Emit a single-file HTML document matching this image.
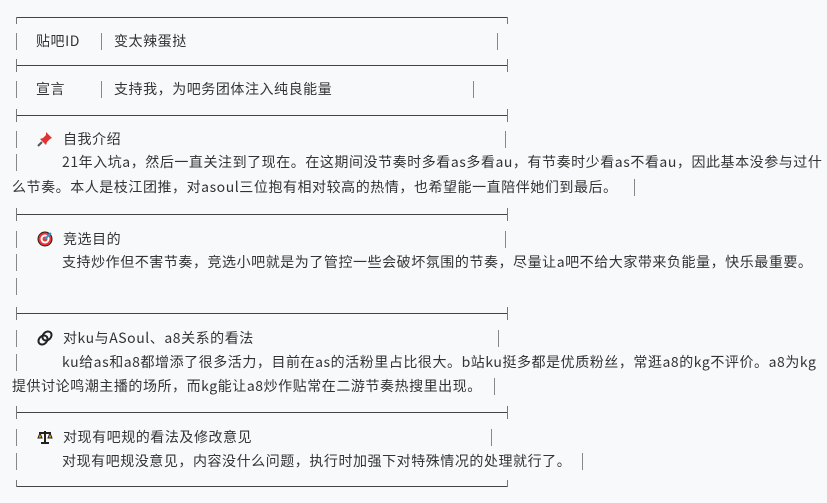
<!DOCTYPE html>
<html><head><meta charset="utf-8"><style>
body{margin:0;width:827px;height:503px;background:#f8f9fb;position:relative;overflow:hidden;font-family:"Noto Sans CJK SC","Liberation Sans",sans-serif;font-size:14px;color:#333}
.h{position:absolute;left:16px;width:491px;height:1px;background:#444}
.lt{position:absolute;left:16px;width:1px;height:7px;background:#777}
.rt{position:absolute;left:507px;width:1px;height:7px;background:#777}
.v{position:absolute;width:1px;height:17px;background:#888}
.t{position:absolute;white-space:nowrap;line-height:20px;letter-spacing:0.55px}
.ic{display:inline-block;width:16px;height:16px;vertical-align:-3px;margin-right:10px}
</style></head><body>
<div class="h" style="top:17px"></div><div class="lt" style="top:17px"></div><div class="rt" style="top:17px"></div>
<div class="h" style="top:65px"></div><div class="lt" style="top:59px;height:13px"></div><div class="rt" style="top:59px;height:13px"></div>
<div class="h" style="top:115px"></div><div class="lt" style="top:109px;height:13px"></div><div class="rt" style="top:109px;height:13px"></div>
<div class="h" style="top:214px"></div><div class="lt" style="top:208px;height:13px"></div><div class="rt" style="top:208px;height:13px"></div>
<div class="h" style="top:313px"></div><div class="lt" style="top:307px;height:13px"></div><div class="rt" style="top:307px;height:13px"></div>
<div class="h" style="top:412px"></div><div class="lt" style="top:406px;height:13px"></div><div class="rt" style="top:406px;height:13px"></div>
<div class="h" style="top:486px"></div><div class="lt" style="top:480px"></div><div class="rt" style="top:480px"></div>

<div class="v" style="left:16px;top:33px"></div><div class="v" style="left:101px;top:33px"></div><div class="v" style="left:497px;top:33px"></div>
<div class="t" style="left:36px;top:31px">贴吧ID</div><div class="t" style="left:114px;top:31px">变太辣蛋挞</div>

<div class="v" style="left:16px;top:81px"></div><div class="v" style="left:101px;top:81px"></div><div class="v" style="left:473px;top:81px"></div>
<div class="t" style="left:36px;top:79px">宣言</div><div class="t" style="left:114px;top:79px">支持我，为吧务团体注入纯良能量</div>

<div class="v" style="left:16px;top:131px"></div><div class="v" style="left:505px;top:131px"></div>
<div class="t" style="left:37px;top:129px"><svg class="ic" viewBox="0 0 16 16"><path d="M9 1l6 6-2 1-3 3-1 3-6-6 3-1 3-3z" fill="#d33"/><path d="M5 11l-4 4" stroke="#555" stroke-width="2"/></svg>自我介绍</div>
<div class="v" style="left:16px;top:154px"></div>
<div class="t" style="left:62px;top:152px">21年入坑a，然后一直关注到了现在。在这期间没节奏时多看as多看au，有节奏时少看as不看au，因此基本没参与过什</div>
<div class="t" style="left:12px;top:177px">么节奏。本人是枝江团推，对asoul三位抱有相对较高的热情，也希望能一直陪伴她们到最后。</div>
<div class="v" style="left:634px;top:179px"></div>

<div class="v" style="left:16px;top:231px"></div><div class="v" style="left:505px;top:231px"></div>
<div class="t" style="left:37px;top:229px"><svg class="ic" viewBox="0 0 16 16"><circle cx="8" cy="8" r="7" fill="#e33" stroke="#222"/><circle cx="8" cy="8" r="4.5" fill="#fff"/><circle cx="8" cy="8" r="2.5" fill="#e33"/><path d="M8 8l6-6" stroke="#39c" stroke-width="2"/></svg>竞选目的</div>
<div class="v" style="left:16px;top:254px"></div>
<div class="t" style="left:62px;top:252px">支持炒作但不害节奏，竞选小吧就是为了管控一些会破坏氛围的节奏，尽量让a吧不给大家带来负能量，快乐最重要。</div>
<div class="v" style="left:16px;top:278px"></div>

<div class="v" style="left:16px;top:330px"></div><div class="v" style="left:498px;top:330px"></div>
<div class="t" style="left:37px;top:328px"><svg class="ic" viewBox="0 0 16 16"><ellipse cx="6" cy="10" rx="4" ry="5" transform="rotate(45 6 10)" fill="none" stroke="#222" stroke-width="2"/><ellipse cx="10" cy="6" rx="4" ry="5" transform="rotate(45 10 6)" fill="none" stroke="#222" stroke-width="2"/></svg>对ku与ASoul、a8关系的看法</div>
<div class="v" style="left:16px;top:354px"></div>
<div class="t" style="left:62px;top:352px">ku给as和a8都增添了很多活力，目前在as的活粉里占比很大。b站ku挺多都是优质粉丝，常逛a8的kg不评价。a8为kg</div>
<div class="t" style="left:12px;top:376px">提供讨论鸣潮主播的场所，而kg能让a8炒作贴常在二游节奏热搜里出现。</div>
<div class="v" style="left:494px;top:378px"></div>

<div class="v" style="left:16px;top:429px"></div><div class="v" style="left:491px;top:429px"></div>
<div class="t" style="left:37px;top:427px"><svg class="ic" viewBox="0 0 16 16"><path d="M8 2v12M4 14h8M2 4h12" stroke="#222" stroke-width="2"/><path d="M1 9l2-5 2 5z M11 9l2-5 2 5z" fill="#e9a800" stroke="#222"/></svg>对现有吧规的看法及修改意见</div>
<div class="v" style="left:16px;top:453px"></div>
<div class="t" style="left:62px;top:451px">对现有吧规没意见，内容没什么问题，执行时加强下对特殊情况的处理就行了。</div>
<div class="v" style="left:582px;top:453px"></div>
</body></html>
